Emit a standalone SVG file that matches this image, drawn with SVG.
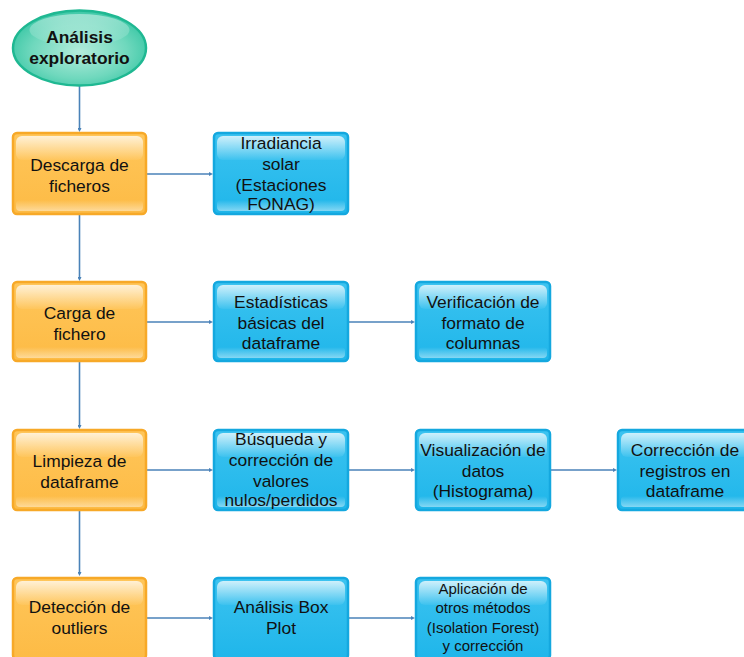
<svg xmlns="http://www.w3.org/2000/svg" width="744" height="657" viewBox="0 0 744 657">
  <defs>
    <linearGradient id="gOrange" x1="0" y1="0" x2="0" y2="1">
      <stop offset="0" stop-color="#ffc65a"/>
      <stop offset="1" stop-color="#fdbb45"/>
    </linearGradient>
    <linearGradient id="gBlue" x1="0" y1="0" x2="0" y2="1">
      <stop offset="0" stop-color="#3cc3f0"/>
      <stop offset="1" stop-color="#1fb6ea"/>
    </linearGradient>
    <linearGradient id="gGloss" x1="0" y1="0" x2="0" y2="1">
      <stop offset="0" stop-color="#ffffff" stop-opacity="0.75"/>
      <stop offset="1" stop-color="#ffffff" stop-opacity="0.05"/>
    </linearGradient>
    <linearGradient id="gFoot" x1="0" y1="0" x2="0" y2="1">
      <stop offset="0" stop-color="#ffffff" stop-opacity="0"/>
      <stop offset="1" stop-color="#ffffff" stop-opacity="0.45"/>
    </linearGradient>
    <radialGradient id="gTeal" cx="0.5" cy="0.55" r="0.6">
      <stop offset="0" stop-color="#b4ecdc"/>
      <stop offset="0.6" stop-color="#6fd8bd"/>
      <stop offset="1" stop-color="#2fc3a0"/>
    </radialGradient>
    <marker id="arr" viewBox="0 0 4 4" refX="2" refY="2" markerWidth="4" markerHeight="4" orient="auto" markerUnits="userSpaceOnUse">
      <path d="M0,0 L4,2 L0,4 z" fill="#4a82b8"/>
    </marker>
  </defs>
  <style>
    .orange { fill: url(#gOrange); stroke: #f7a928; stroke-width: 2.5; }
    .blue { fill: url(#gBlue); stroke: #14a8df; stroke-width: 2.5; }
    .gloss { fill: url(#gGloss); }
    .foot { fill: url(#gFoot); }
    .lbl { font-family: "Liberation Sans", Arial, sans-serif; font-size: 17.4px; fill: #111; text-anchor: middle; }
    .small { font-size: 15px; }
    .title { font-weight: bold; }
    .conn { stroke: #4a82b8; stroke-width: 1.6; fill: none; marker-end: url(#arr); }
  </style>

  <rect width="744" height="657" fill="#ffffff"/>

  <!-- connectors -->
  <g id="connectors">
    <line class="conn" x1="79.5" y1="86" x2="79.5" y2="130"/>
    <line class="conn" x1="79.5" y1="215" x2="79.5" y2="279"/>
    <line class="conn" x1="79.5" y1="362" x2="79.5" y2="427"/>
    <line class="conn" x1="79.5" y1="511" x2="79.5" y2="574"/>
    <line class="conn" x1="147" y1="174" x2="211" y2="174"/>
    <line class="conn" x1="147" y1="322" x2="211" y2="322"/>
    <line class="conn" x1="349" y1="322" x2="413" y2="322"/>
    <line class="conn" x1="147" y1="470" x2="211" y2="470"/>
    <line class="conn" x1="349" y1="470" x2="413" y2="470"/>
    <line class="conn" x1="551" y1="470" x2="615" y2="470"/>
    <line class="conn" x1="147" y1="618" x2="211" y2="618"/>
    <line class="conn" x1="349" y1="618" x2="413" y2="618"/>
  </g>

  <!-- start node -->
  <g id="n-start">
    <ellipse cx="79.5" cy="48" rx="66.5" ry="37.5" fill="url(#gTeal)" stroke="#1fb892" stroke-width="2.5"/>
    <ellipse cx="79.5" cy="30" rx="50" ry="16" fill="url(#gGloss)" opacity="0.6"/>
    <text class="lbl title" x="79.5" y="43">Análisis</text>
    <text class="lbl title" x="79.5" y="64">exploratorio</text>
  </g>

  <!-- left column -->
  <g id="n-descarga">
    <rect class="orange" x="13" y="133" width="133" height="81" rx="4"/>
    <rect class="gloss" x="16" y="136" width="127" height="24" rx="6"/>
    <rect class="foot" x="16" y="200" width="127" height="11" rx="4"/>
    <text class="lbl" x="79.5" y="171">Descarga de</text>
    <text class="lbl" x="79.5" y="192">ficheros</text>
  </g>
  <g id="n-carga">
    <rect class="orange" x="13" y="282" width="133" height="79" rx="4"/>
    <rect class="gloss" x="16" y="285" width="127" height="24" rx="6"/>
    <rect class="foot" x="16" y="347" width="127" height="11" rx="4"/>
    <text class="lbl" x="79.5" y="319">Carga de</text>
    <text class="lbl" x="79.5" y="340">fichero</text>
  </g>
  <g id="n-limpieza">
    <rect class="orange" x="13" y="430" width="133" height="80" rx="4"/>
    <rect class="gloss" x="16" y="433" width="127" height="24" rx="6"/>
    <rect class="foot" x="16" y="496" width="127" height="11" rx="4"/>
    <text class="lbl" x="79.5" y="467">Limpieza de</text>
    <text class="lbl" x="79.5" y="488">dataframe</text>
  </g>
  <g id="n-deteccion">
    <rect class="orange" x="13" y="578" width="133" height="81" rx="4"/>
    <rect class="gloss" x="16" y="581" width="127" height="24" rx="6"/>
    <text class="lbl" x="79.5" y="613">Detección de</text>
    <text class="lbl" x="79.5" y="634">outliers</text>
  </g>

  <!-- row 1 -->
  <g id="n-irradiancia">
    <rect class="blue" x="214" y="133" width="134" height="81" rx="4"/>
    <rect class="gloss" x="217" y="136" width="128" height="24" rx="6"/>
    <rect class="foot" x="217" y="200" width="128" height="11" rx="4"/>
    <text class="lbl" x="281" y="149">Irradiancia</text>
    <text class="lbl" x="281" y="169.5">solar</text>
    <text class="lbl" x="281" y="190.5">(Estaciones</text>
    <text class="lbl" x="281" y="210">FONAG)</text>
  </g>

  <!-- row 2 -->
  <g id="n-estadisticas">
    <rect class="blue" x="214" y="282" width="134" height="79" rx="4"/>
    <rect class="gloss" x="217" y="285" width="128" height="24" rx="6"/>
    <rect class="foot" x="217" y="347" width="128" height="11" rx="4"/>
    <text class="lbl" x="281" y="308">Estadísticas</text>
    <text class="lbl" x="281" y="328.5">básicas del</text>
    <text class="lbl" x="281" y="349">dataframe</text>
  </g>
  <g id="n-verificacion">
    <rect class="blue" x="416" y="282" width="134" height="79" rx="4"/>
    <rect class="gloss" x="419" y="285" width="128" height="24" rx="6"/>
    <rect class="foot" x="419" y="347" width="128" height="11" rx="4"/>
    <text class="lbl" x="483" y="308">Verificación de</text>
    <text class="lbl" x="483" y="328.5">formato de</text>
    <text class="lbl" x="483" y="349">columnas</text>
  </g>

  <!-- row 3 -->
  <g id="n-busqueda">
    <rect class="blue" x="214" y="430" width="134" height="80" rx="4"/>
    <rect class="gloss" x="217" y="433" width="128" height="24" rx="6"/>
    <rect class="foot" x="217" y="496" width="128" height="11" rx="4"/>
    <text class="lbl" x="281" y="445">Búsqueda y</text>
    <text class="lbl" x="281" y="466">corrección de</text>
    <text class="lbl" x="281" y="487">valores</text>
    <text class="lbl" x="281" y="506">nulos/perdidos</text>
  </g>
  <g id="n-visualizacion">
    <rect class="blue" x="416" y="430" width="134" height="80" rx="4"/>
    <rect class="gloss" x="419" y="433" width="128" height="24" rx="6"/>
    <rect class="foot" x="419" y="496" width="128" height="11" rx="4"/>
    <text class="lbl" x="483" y="456">Visualización de</text>
    <text class="lbl" x="483" y="476.5">datos</text>
    <text class="lbl" x="483" y="497">(Histograma)</text>
  </g>
  <g id="n-correccion">
    <rect class="blue" x="618" y="430" width="134" height="80" rx="4"/>
    <rect class="gloss" x="621" y="433" width="128" height="24" rx="6"/>
    <rect class="foot" x="621" y="496" width="128" height="11" rx="4"/>
    <text class="lbl" x="685" y="456">Corrección de</text>
    <text class="lbl" x="685" y="476.5">registros en</text>
    <text class="lbl" x="685" y="497">dataframe</text>
  </g>

  <!-- row 4 -->
  <g id="n-boxplot">
    <rect class="blue" x="214" y="578" width="134" height="81" rx="4"/>
    <rect class="gloss" x="217" y="581" width="128" height="24" rx="6"/>
    <text class="lbl" x="281" y="613">Análisis Box</text>
    <text class="lbl" x="281" y="634">Plot</text>
  </g>
  <g id="n-otros">
    <rect class="blue" x="416" y="578" width="134" height="81" rx="4"/>
    <rect class="gloss" x="419" y="581" width="128" height="24" rx="6"/>
    <text class="lbl small" x="483" y="594">Aplicación de</text>
    <text class="lbl small" x="483" y="613">otros métodos</text>
    <text class="lbl small" x="483" y="632.5">(Isolation Forest)</text>
    <text class="lbl small" x="483" y="651">y corrección</text>
  </g>
</svg>
